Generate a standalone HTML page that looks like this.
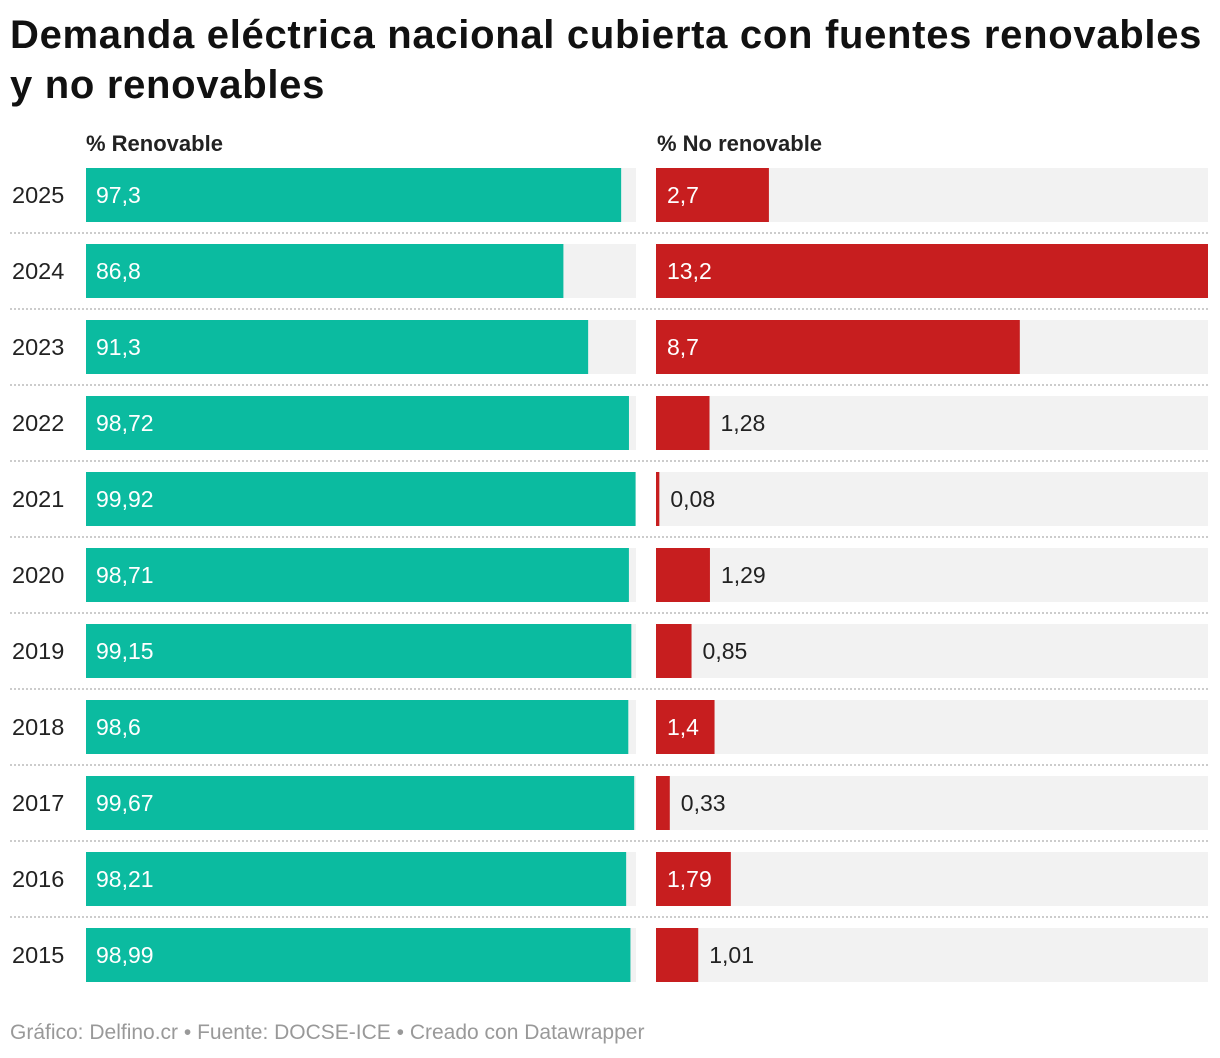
<!DOCTYPE html>
<html><head><meta charset="utf-8"><style>
body{margin:0;width:1220px;height:1058px;background:#fff;font-family:"Liberation Sans",sans-serif;color:#222;position:relative;overflow:hidden}
h1{position:absolute;left:10px;top:10px;margin:0;font-size:40px;line-height:50px;font-weight:bold;letter-spacing:0.7px;width:1215px;color:#111;white-space:nowrap}
.hdr{position:absolute;top:131px;font-size:22px;font-weight:bold;color:#222}
.foot{position:absolute;left:10px;top:1021px;font-size:21px;color:#999}
</style></head><body>
<h1>Demanda eléctrica nacional cubierta con fuentes renovables<br>y no renovables</h1>
<div class="hdr" style="left:86px">% Renovable</div>
<div class="hdr" style="left:657px">% No renovable</div>
<svg id="chart" width="1220" height="1058" style="position:absolute;left:0;top:0"></svg>
<div class="foot">Gráfico: Delfino.cr • Fuente: DOCSE-ICE • Creado con Datawrapper</div>
<script>
const years=["2025","2024","2023","2022","2021","2020","2019","2018","2017","2016","2015"];
const renewable=[97.3,86.8,91.3,98.72,99.92,98.71,99.15,98.6,99.67,98.21,98.99];
const nonRenewable=[2.7,13.2,8.7,1.28,0.08,1.29,0.85,1.4,0.33,1.79,1.01];
const renMax=100, nonMax=13.2;
const svg=document.getElementById('chart');
const NS='http://www.w3.org/2000/svg';
function mk(t,a){const e=document.createElementNS(NS,t);for(const k in a)e.setAttribute(k,a[k]);svg.appendChild(e);return e;}
const L0=86,LW=550,R0=656,RW=552,top0=168,pitch=76,bh=54;
const xL=v=>v/renMax*LW, xR=v=>v/nonMax*RW;
const fmt=v=>String(v).replace('.',',');
years.forEach((y,i)=>{
  const ty=top0+i*pitch;
  let t=mk('text',{x:12,y:ty+35,'font-size':23.5,fill:'#222'});t.textContent=y;
  
  
  let b=mk('rect',{x:L0,y:ty,width:LW,height:bh,fill:'#f2f2f2'});
  
  
  b=mk('rect',{x:R0,y:ty,width:RW,height:bh,fill:'#f2f2f2'});
  
  
  const wl=xL(renewable[i]);
  b=mk('rect',{x:L0,y:ty,width:wl,height:bh,fill:'#0bbba0'});
  
  
  t=mk('text',{x:L0+10,y:ty+35,'font-size':23,fill:'#fff'});t.textContent=fmt(renewable[i]);
  
  
  const wr=xR(nonRenewable[i]);
  b=mk('rect',{x:R0,y:ty,width:wr,height:bh,fill:'#c71e1f'});
  
  
  const s=fmt(nonRenewable[i]);
  const tw=s.length*11.5+18;
  const inside=tw<wr;
  t=mk('text',{x:inside?R0+11:R0+wr+11,y:ty+35,'font-size':23,fill:inside?'#fff':'#222'});t.textContent=s;
  
  
  if(i<years.length-1){
    const l=mk('line',{x1:10,x2:1208,y1:ty+bh+11,y2:ty+bh+11,stroke:'#ccc','stroke-width':2,'stroke-dasharray':'2 2'});
    
    
  }
});
</script>
</body></html>
